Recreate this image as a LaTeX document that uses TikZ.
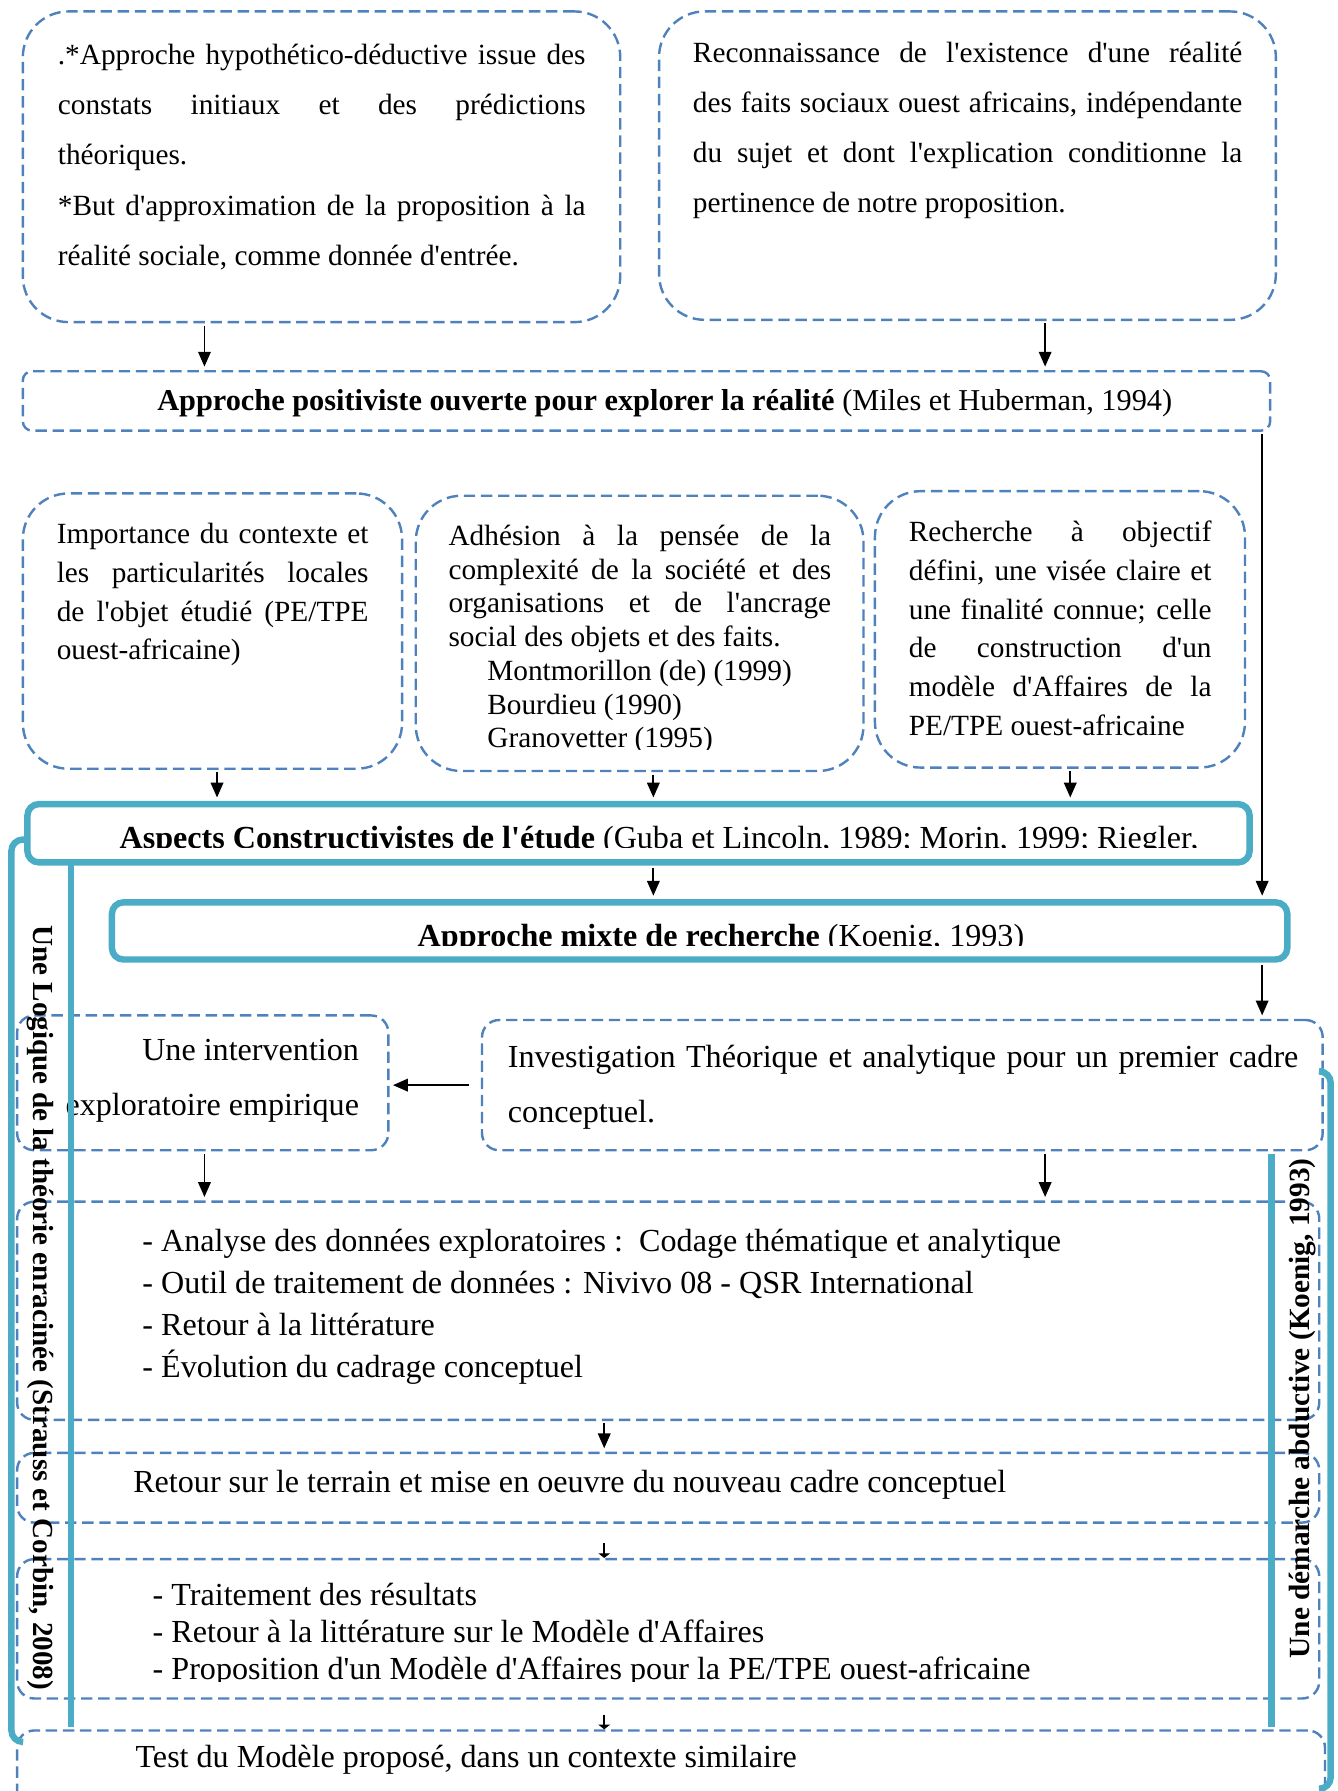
\documentclass[tikz,border=0pt]{standalone}
\usepackage{fontspec}
\setmainfont{Liberation Serif}[Ligatures=TeXOff]
\usetikzlibrary{arrows.meta,fit}

\definecolor{boxblue}{HTML}{4F81BD}
\definecolor{brackteal}{HTML}{4BACC6}
\hbadness=10000

\begin{document}
\begin{tikzpicture}[x=0.1mm, y=-0.1mm,
    dbox/.style={draw=boxblue, line width=0.6pt, dash pattern=on 1mm off 0.5mm,
      rounded corners=#1, inner sep=0pt},
    dbox/.default=1.5mm,
    tbox/.style={draw=brackteal, line width=1.6pt, rounded corners=1mm, inner sep=0pt},
    brack/.style={draw=brackteal, line width=1.6pt, rounded corners=1mm},
    oneline/.style={inner sep=0pt, font=\fontsize{8}{9.6}\selectfont},
    para/.style n args={3}{inner sep=0pt, anchor=north west, text width=#1,
      align=justify, font=\fontsize{#2}{#3}\selectfont},
    arr/.style={-{Triangle[length=1.3mm,width=1.1mm]}, line width=0.45pt,
      shorten <=0.2mm, shorten >=0.3mm},
    tickarr/.style={-{Triangle[length=0.4mm,width=1mm]}, line width=0.45pt},
  ]
\useasboundingbox (0,0) rectangle (1171,1568);
\clip (0,0) rectangle (1171,1568);

% boxes
\node[dbox=4mm, fit={(20,10) (543,282)}] (boxA) {};
\node[dbox=4mm, fit={(577,10) (1117,280)}] (boxB) {};
\node[dbox=0.8mm, fit={(20,325) (1112,377)}] (boxC) {};
\node[dbox=4mm, fit={(20,432) (352,673)}] (boxD1) {};
\node[dbox=4mm, fit={(364,434) (756,675)}] (boxD2) {};
\node[dbox=4mm, fit={(766,430) (1090,672)}] (boxD3) {};
\node[tbox, fit={(24,704) (1094,755)}] (boxF) {};
\node[tbox, fit={(98,790) (1127,840)}] (boxG) {};
\node[dbox, fit={(15,889) (340,1007)}] (boxI) {};
\node[dbox, fit={(422,893) (1158,1007)}] (boxH) {};
\node[dbox, fit={(15,1052) (1155,1243)}] (boxJ) {};
\node[dbox, fit={(15,1272) (1155,1333)}] (boxK) {};
\node[dbox, fit={(15,1365) (1155,1487)}] (boxL) {};
\node[dbox, fit={(15,1515) (1160,1620)}] (boxM) {};

% texts
\node[para={46.2mm}{7.3}{12.5}] (txtA) at (50,38) {.*Approche hypothético-déductive issue des\linebreak
  constats initiaux et des prédictions\linebreak théoriques.\\{}*But d'approximation de la proposition à la\linebreak
  réalité sociale, comme donnée d'entrée.};
\node[para={48.1mm}{7.3}{12.5}] (txtB) at (606,36) {Reconnaissance de l'existence d'une réalité\linebreak
  des faits sociaux ouest africains, indépendante\linebreak
  du sujet et dont l'explication conditionne la\linebreak pertinence de notre proposition.};
\node[oneline, font=\fontsize{7.55}{9}\selectfont] (txtC) at (582,353)
  {\textbf{Approche positiviste ouverte pour explorer la réalité} (Miles et Huberman, 1994)};
\node[para={27.3mm}{7.3}{9.7}] (txtD1) at (49,457) {Importance du contexte et\linebreak
  les particularités locales\linebreak de l'objet étudié (PE/TPE\linebreak ouest-africaine)};
\begin{scope}
  \clip (364,434) rectangle (756,656);
  \node[para={33.5mm}{7.3}{8.4}] (txtD2) at (392,459) {Adhésion à la pensée de la\linebreak
    complexité de la société et des\linebreak organisations et de l'ancrage\linebreak
    social des objets et des faits.\\
    \hspace*{3.4mm}Montmorillon (de) (1999)\\
    \hspace*{3.4mm}Bourdieu (1990)\\
    \hspace*{3.4mm}Granovetter (1995)};
\end{scope}
\node[para={26.5mm}{7.3}{9.7}] (txtD3) at (795,455) {Recherche à objectif\linebreak
  défini, une visée claire et\linebreak une finalité connue; celle\linebreak
  de construction d'un\linebreak modèle d'Affaires de la\linebreak PE/TPE ouest-africaine};
\begin{scope}
  \clip (24,704) rectangle (1094,742);
  \node[oneline, anchor=base west] (txtF) at (104,743)
    {\textbf{Aspects Constructivistes de l'étude} (Guba et Lincoln, 1989; Morin, 1999; Riegler,};
\end{scope}
\begin{scope}
  \clip (98,790) rectangle (1127,828);
  \node[oneline, anchor=base west] (txtG) at (365,829) {\textbf{Approche mixte de recherche} (Koenig, 1993)};
\end{scope}
\node[para={69.2mm}{8}{13.7}] (txtH) at (444,914) {Investigation Théorique et analytique pour un premier cadre\linebreak conceptuel.};
\node[oneline, anchor=north east, align=right, font=\fontsize{8}{13.7}\selectfont] (txtI) at (315,909)
  {Une intervention\\exploratoire empirique};
\node[oneline, anchor=north west, align=left, font=\fontsize{8}{10.5}\selectfont] (txtJ) at (124,1075)
  {- Analyse des données exploratoires :\ \ Codage thématique et analytique\\
   - Outil de traitement de données : Nivivo 08 - QSR International\\
   - Retour à la littérature\\
   - Évolution du cadrage conceptuel};
\node[oneline, anchor=west] (txtK) at (116,1300) {Retour sur le terrain et mise en oeuvre du nouveau cadre conceptuel};
\begin{scope}
  \clip (15,1365) rectangle (1155,1472);
  \node[oneline, anchor=north west, align=left, font=\fontsize{8}{9.25}\selectfont] (txtL) at (133,1385)
    {- Traitement des résultats\\
     - Retour à la littérature sur le Modèle d'Affaires\\
     - Proposition d'un Modèle d'Affaires pour la PE/TPE ouest-africaine};
\end{scope}
\node[oneline, anchor=west] (txtM) at (118,1541) {Test du Modèle proposé, dans un contexte similaire};

% connectors
\coordinate (colA) at (179,0);
\coordinate (colB) at (915,0);
\coordinate (colD1) at (190,0);
\coordinate (colMid) at (572,0);
\coordinate (colD3) at (937,0);
\coordinate (colR) at (1105,0);
\coordinate (colK) at (529,0);
\draw[arr] (boxA.south -| colA) -- (boxC.north -| colA);
\draw[arr] (boxB.south -| colB) -- (boxC.north -| colB);
\draw[arr] (boxC.south -| colR) -- (boxG.north -| colR);
\draw[arr] (boxD1.south -| colD1) -- (boxF.north -| colD1);
\draw[arr] (boxD2.south -| colMid) -- (boxF.north -| colMid);
\draw[arr] (boxD3.south -| colD3) -- (boxF.north -| colD3);
\draw[arr] (boxF.south -| colMid) -- (boxG.north -| colMid);
\draw[arr] (boxG.south -| colR) -- (boxH.north -| colR);
\draw[arr, shorten <=1mm] (boxH.west) -- (boxI.east |- boxH.west);
\draw[arr] (boxI.south -| colA) -- (boxJ.north -| colA);
\draw[arr] (boxH.south -| colB) -- (boxJ.north -| colB);
\draw[arr] (boxJ.south -| colK) -- (boxK.north -| colK);
\draw[tickarr, shorten <=1.7mm] (boxK.south -| colK) -- (boxL.north -| colK);
\draw[tickarr, shorten <=1.3mm] (boxL.south -| colK) -- (boxM.north -| colK);

% brackets
\draw[brack] (boxF.west |- 0,735) -- (10,735) -- (10,1525) -- (18,1525);
\draw[brack] (62,755) -- (62,1512);
\draw[brack] (boxH.east |- 0,938) -- (1165,938) -- (1165,1566) -- (1157,1566);
\draw[brack] (1113,1010) -- (1113,1512);
\node[oneline, font=\fontsize{7.25}{8.7}\selectfont\bfseries, rotate=-90] (sideL) at (35,1145)
  {Une Logique de la théorie enracinée (Strauss et Corbin, 2008)};
\node[oneline, font=\fontsize{7.3}{8.7}\selectfont\bfseries, rotate=90] (sideR) at (1140,1233)
  {Une démarche abductive (Koenig, 1993)};
\end{tikzpicture}
\end{document}
